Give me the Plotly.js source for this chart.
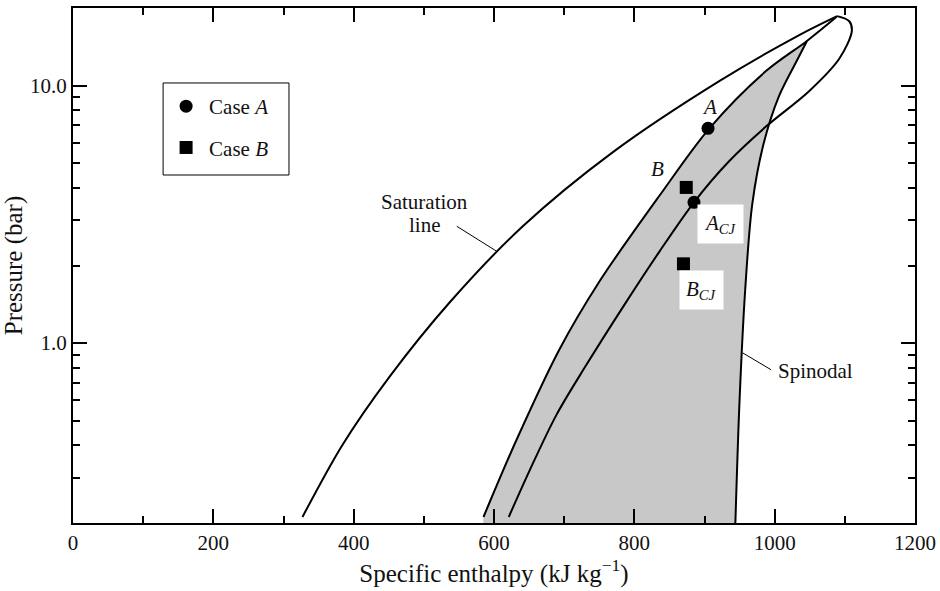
<!DOCTYPE html>
<html>
<head>
<meta charset="utf-8">
<script src="https://cdn.plot.ly/plotly-3.0.1.min.js"></script>
<style>html,body{margin:0;padding:0;background:#fff;}#chart{width:940px;height:591px;}</style>
</head>
<body>
<div id="chart"></div>
<script>
// ---- data (enthalpy kJ/kg, pressure bar) ----
const satH = [327, 384, 451, 537, 641, 769, 921, 1035, 1089];
const satP = [0.211, 0.402, 0.739, 1.44, 2.84, 5.50, 10.4, 15.7, 18.6];

const lineBH = [585, 632, 693, 750, 836, 907, 988, 1046, 1088];
const lineBP = [0.211, 0.420, 0.942, 1.73, 3.74, 6.82, 11.4, 14.9, 18.45];
const fillJoin = 7; // index in lineB where the spinodal meets it

const lineAH = [621, 651, 689, 729, 786, 836, 885, 935, 988, 1049, 1092, 1110, 1106, 1089];
const lineAP = [0.211, 0.321, 0.526, 0.801, 1.41, 2.27, 3.52, 5.08, 6.94, 9.50, 12.7, 16.3, 17.8, 18.6];

const spinH = [944, 950, 958, 968, 984, 1006, 1031, 1046];
const spinP = [0.200, 0.602, 1.61, 3.45, 5.91, 9.08, 12.4, 14.9];

const caseAH = [905, 885];
const caseAP = [6.82, 3.52];
const caseBH = [874, 870];
const caseBP = [4.02, 2.03];

const xTicks = [0, 200, 400, 600, 800, 1000, 1200];
const xMinor = [100, 300, 500, 700, 900, 1100];
const yTicks = [1, 10];
const yTickText = ['1.0', '10.0'];
const yMinor = [0.3, 0.4, 0.5, 0.6, 0.7, 0.8, 0.9, 2, 3, 4, 5, 6, 7, 8, 9];
const Y_MIN = 0.2, Y_MAX = 20;

// ---- build figure ----
const FONT = '"Liberation Serif", "Times New Roman", Times, serif';
const INK = '#111';

// shaded metastable region: between line B and the spinodal, down to the axis
const fillH = [lineBH[0]].concat(lineBH.slice(0, fillJoin + 1), spinH.slice().reverse());
const fillP = [Y_MIN].concat(lineBP.slice(0, fillJoin + 1), spinP.slice().reverse());

const lineStyle = {color: '#000', width: 2, shape: 'spline', smoothing: 0.9};
const traces = [
  {x: fillH, y: fillP, mode: 'lines', line: {width: 0, shape: 'spline', smoothing: 0.9, color: 'rgba(0,0,0,0)'},
   fill: 'toself', showlegend: false, hoverinfo: 'skip', fillcolor: '#c8c8c8'},
  {x: satH, y: satP, mode: 'lines', line: lineStyle, showlegend: false},
  {x: lineBH, y: lineBP, mode: 'lines', line: lineStyle, showlegend: false},
  {x: lineAH, y: lineAP, mode: 'lines', line: lineStyle, showlegend: false},
  {x: spinH, y: spinP, mode: 'lines', line: lineStyle, showlegend: false},
  {x: caseAH, y: caseAP, mode: 'markers', name: 'Case <i>A</i>', legendgroup: 'a',
   marker: {symbol: 'circle', size: 13, color: '#000'}},
  {x: caseBH, y: caseBP, mode: 'markers', name: 'Case <i>B</i>', legendgroup: 'b',
   marker: {symbol: 'square', size: 13, color: '#000'}}
];

const L = Math.log10;
const annFont = {family: FONT, size: 21, color: INK};
const annotations = [
  {x: 501, y: L(3.52), text: 'Saturation', showarrow: false, font: annFont},
  {x: 501, y: L(2.88), text: 'line', showarrow: false, font: annFont},
  {x: 907, y: L(8.23), text: '<i>A</i>', showarrow: false, font: annFont},
  {x: 833, y: L(4.72), text: '<i>B</i>', showarrow: false, font: annFont},
  {x: 923, y: L(2.90), text: '<i>A</i><sub><i>CJ</i></sub>', showarrow: false, font: annFont,
   bgcolor: '#fff', borderpad: 6},
  {x: 896, y: L(1.60), text: '<i>B</i><sub><i>CJ</i></sub>', showarrow: false, font: annFont,
   bgcolor: '#fff', borderpad: 6},
  {x: 1058, y: L(0.78), text: 'Spinodal', showarrow: false, font: annFont}
];

// shapes on a log axis take plain data values here
const shapes = [
  {type: 'line', xref: 'x', yref: 'y', x0: 547, y0: 2.84, x1: 604, y1: 2.27, line: {color: '#000', width: 1}},
  {type: 'line', xref: 'x', yref: 'y', x0: 954, y0: 0.917, x1: 995, y1: 0.787, line: {color: '#000', width: 1}},
  // legend frame
  {type: 'rect', xref: 'paper', yref: 'paper', x0: 0.107, x1: 0.2565, y0: 0.6757, y1: 0.8544,
   line: {color: '#000', width: 1}, fillcolor: 'rgba(0,0,0,0)'}
];

const axisCommon = {
  showgrid: false, zeroline: false, showline: true, linecolor: '#000', linewidth: 2,
  mirror: 'ticks', ticks: 'inside', ticklen: 14, tickwidth: 2, tickcolor: '#000',
  tickfont: {family: FONT, size: 21, color: INK}
};

const layout = {
  width: 940, height: 591,
  margin: {l: 73, r: 25, t: 8, b: 68},
  paper_bgcolor: '#fff', plot_bgcolor: '#fff',
  font: {family: FONT, color: INK},
  showlegend: true,
  legend: {x: 0.107, y: 0.8485, xanchor: 'left', yanchor: 'top', itemwidth: 36,
    borderwidth: 0, bgcolor: 'rgba(0,0,0,0)',
    font: {family: FONT, size: 21, color: INK}, tracegroupgap: 11, traceorder: 'grouped'},
  xaxis: Object.assign({}, axisCommon, {
    range: [0, 1200], tickmode: 'array', tickvals: xTicks,
    minor: {tickmode: 'array', tickvals: xMinor, ticks: 'inside', ticklen: 7, tickwidth: 2, tickcolor: '#000'},
    title: {text: 'Specific enthalpy (kJ kg<sup>\u22121</sup>)', font: {family: FONT, size: 25, color: INK}, standoff: 10}
  }),
  yaxis: Object.assign({}, axisCommon, {
    type: 'log', range: [L(Y_MIN), L(Y_MAX)], tickmode: 'array', tickvals: yTicks, ticktext: yTickText,
    minor: {tickmode: 'array', tickvals: yMinor, ticks: 'inside', ticklen: 7, tickwidth: 2, tickcolor: '#000'},
    title: {text: 'Pressure (bar)', font: {family: FONT, size: 25, color: INK}, standoff: 0}
  }),
  annotations: annotations,
  shapes: shapes
};

Plotly.newPlot('chart', traces, layout, {staticPlot: true, displayModeBar: false});
</script>
</body>
</html>
